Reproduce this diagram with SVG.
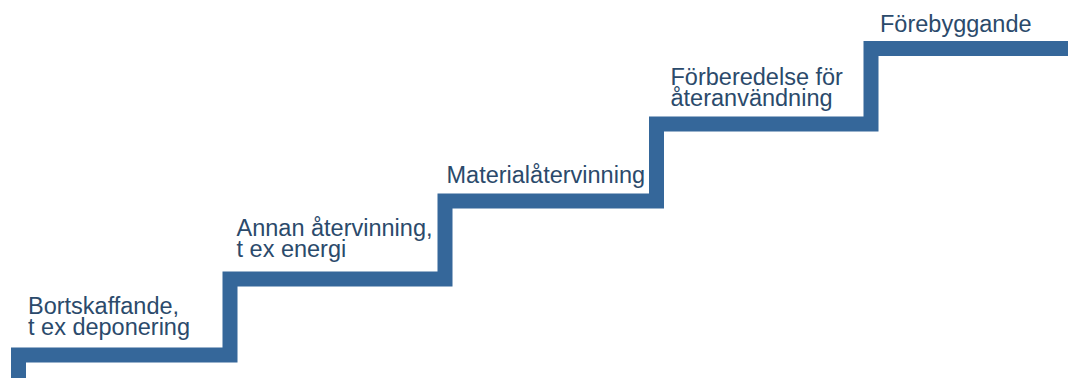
<svg xmlns="http://www.w3.org/2000/svg" width="1068" height="378" viewBox="0 0 1068 378">
<style>
.lbl{font-family:"Liberation Sans",Arial,sans-serif;font-size:23.5px;fill:#2b4a6b}
.stair{fill:none;stroke:#35679a;stroke-width:15;stroke-linejoin:miter;stroke-linecap:butt}
</style>
<rect width="1068" height="378" fill="#ffffff"/>
<g id="connectors">
<polyline class="stair" points="18.5,378 18.5,355 230,355 230,279 445,279 445,201 656.5,201 656.5,124 871,124 871,48.5 1068,48.5"/>
</g>
<g id="step1"><text class="lbl" x="28" y="314">Bortskaffande,</text><text class="lbl" x="28" y="335">t ex deponering</text></g>
<g id="step2"><text class="lbl" x="236.5" y="236">Annan återvinning,</text><text class="lbl" x="236.5" y="257">t ex energi</text></g>
<g id="step3"><text class="lbl" x="446.5" y="183">Materialåtervinning</text></g>
<g id="step4"><text class="lbl" x="670.5" y="85">Förberedelse för</text><text class="lbl" x="670.5" y="106">återanvändning</text></g>
<g id="step5"><text class="lbl" x="880" y="32">Förebyggande</text></g>
</svg>
